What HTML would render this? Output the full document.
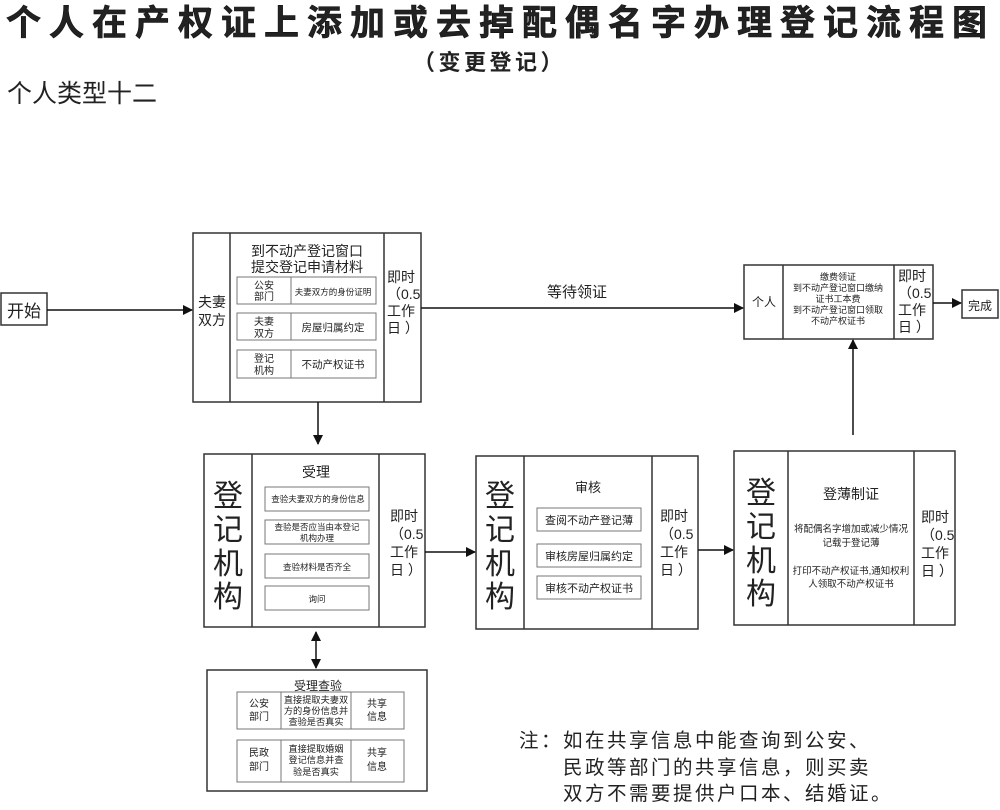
<!DOCTYPE html>
<html><head><meta charset="utf-8"><style>
body{margin:0;background:#fff}
svg text{font-family:"Liberation Sans","Noto Sans CJK SC",sans-serif;fill:#222}
</style></head><body>
<svg width="1000" height="805" viewBox="0 0 1000 805" xmlns="http://www.w3.org/2000/svg">
<defs><marker id="a" markerWidth="10" markerHeight="10" refX="9" refY="5" orient="auto" markerUnits="userSpaceOnUse"><path d="M0,0 L10,5 L0,10 z" fill="#111"/></marker>
<marker id="b" markerWidth="10" markerHeight="10" refX="1" refY="5" orient="auto" markerUnits="userSpaceOnUse"><path d="M10,0 L0,5 L10,10 z" fill="#111"/></marker></defs>
<g>
<text x="6" y="35" font-size="35" font-weight="bold" letter-spacing="8" fill="#111" stroke="#111" stroke-width="0.6">个人在产权证上添加或去掉配偶名字办理登记流程图</text>
<text x="413" y="70" font-size="22" font-weight="bold" letter-spacing="3.5">（变更登记）</text>
<text x="7" y="102" font-size="25">个人类型十二</text>
</g>
<g fill="none" stroke="#333" stroke-width="1.5">
<rect x="1" y="293" width="46" height="32"/>
<rect x="193" y="233" width="228" height="169"/><line x1="230" y1="233" x2="230" y2="402"/><line x1="384" y1="233" x2="384" y2="402"/>
<rect x="744" y="265" width="189" height="74"/><line x1="783" y1="265" x2="783" y2="339"/><line x1="894" y1="265" x2="894" y2="339"/>
<rect x="962" y="290" width="36" height="28"/>
<rect x="204" y="454" width="221" height="173"/><line x1="252" y1="454" x2="252" y2="627"/><line x1="379" y1="454" x2="379" y2="627"/>
<rect x="207" y="670" width="220" height="121"/>
<rect x="476" y="456" width="222" height="173"/><line x1="524" y1="456" x2="524" y2="629"/><line x1="652" y1="456" x2="652" y2="629"/>
<rect x="734" y="451" width="221" height="174"/><line x1="788" y1="451" x2="788" y2="625"/><line x1="914" y1="451" x2="914" y2="625"/>
</g>
<g fill="none" stroke="#777" stroke-width="1">
<rect x="237" y="277" width="139" height="27"/><line x1="291" y1="277" x2="291" y2="304"/>
<rect x="237" y="313" width="139" height="27"/><line x1="291" y1="313" x2="291" y2="340"/>
<rect x="237" y="350" width="139" height="28"/><line x1="291" y1="350" x2="291" y2="378"/>
<rect x="265" y="487" width="104" height="24"/><rect x="265" y="520" width="104" height="24"/><rect x="265" y="554" width="104" height="24"/><rect x="265" y="586" width="104" height="24"/>
<rect x="237" y="692" width="167" height="37"/><line x1="281" y1="692" x2="281" y2="729"/><line x1="351" y1="692" x2="351" y2="729"/>
<rect x="237" y="740" width="167" height="42"/><line x1="281" y1="740" x2="281" y2="782"/><line x1="351" y1="740" x2="351" y2="782"/>
<rect x="537" y="508" width="104" height="23"/><rect x="537" y="544" width="104" height="23"/><rect x="537" y="576" width="104" height="23"/>
</g>
<g stroke="#111" stroke-width="1.5" fill="none">
<line x1="47" y1="310" x2="192" y2="310" marker-end="url(#a)"/>
<line x1="421" y1="308" x2="743" y2="308" marker-end="url(#a)"/>
<line x1="933" y1="303" x2="961" y2="303" marker-end="url(#a)"/>
<line x1="853" y1="435" x2="853" y2="340" marker-end="url(#a)"/>
<line x1="318" y1="402" x2="318" y2="444" marker-end="url(#a)"/>
<line x1="316" y1="632" x2="316" y2="668" marker-start="url(#b)" marker-end="url(#a)"/>
<line x1="425" y1="552" x2="475" y2="552" marker-end="url(#a)"/>
<line x1="698" y1="550" x2="733" y2="550" marker-end="url(#a)"/>
</g>
<g text-anchor="middle">
<text x="24" y="317" font-size="17">开始</text>
<text x="980" y="310" font-size="12">完成</text>
<text x="577" y="297" font-size="15">等待领证</text>
<text x="212" y="307" font-size="14">夫妻</text><text x="212" y="325" font-size="14">双方</text>
<text x="307" y="256" font-size="14">到不动产登记窗口</text><text x="307" y="272" font-size="14">提交登记申请材料</text>
<text x="264" y="289" font-size="10">公安</text><text x="264" y="300" font-size="10">部门</text>
<text x="333" y="295" font-size="8.5">夫妻双方的身份证明</text>
<text x="264" y="325" font-size="10">夫妻</text><text x="264" y="337" font-size="10">双方</text>
<text x="333" y="331" font-size="10.5">房屋归属约定</text>
<text x="264" y="362" font-size="10">登记</text><text x="264" y="374" font-size="10">机构</text>
<text x="333" y="368" font-size="10.5">不动产权证书</text>
<text x="764" y="306" font-size="12">个人</text>
<g font-size="9"><text x="838" y="280">缴费领证</text><text x="838" y="291">到不动产登记窗口缴纳</text><text x="838" y="302">证书工本费</text><text x="838" y="313">到不动产登记窗口领取</text><text x="838" y="324">不动产权证书</text></g>
<text x="316" y="477" font-size="14">受理</text>
<g font-size="8.5"><text x="318" y="502">查验夫妻双方的身份信息</text><text x="317" y="530">查验是否应当由本登记</text><text x="317" y="541">机构办理</text><text x="317" y="570">查验材料是否齐全</text><text x="317" y="602">询问</text></g>
<text x="318" y="690" font-size="12">受理查验</text>
<g font-size="10"><text x="259" y="707">公安</text><text x="259" y="720">部门</text><text x="377" y="707">共享</text><text x="377" y="720">信息</text>
<text x="259" y="756">民政</text><text x="259" y="770">部门</text><text x="377" y="756">共享</text><text x="377" y="770">信息</text></g>
<g font-size="9.2"><text x="316" y="703">直接提取夫妻双</text><text x="316" y="714">方的身份信息并</text><text x="316" y="725">查验是否真实</text>
<text x="316" y="752">直接提取婚姻</text><text x="316" y="763">登记信息并查</text><text x="316" y="775">验是否真实</text></g>
<text x="588" y="492" font-size="13">审核</text>
<g font-size="11"><text x="589" y="524">查阅不动产登记薄</text><text x="589" y="560">审核房屋归属约定</text><text x="589" y="592">审核不动产权证书</text></g>
<text x="851" y="499" font-size="14">登薄制证</text>
<g font-size="9.5"><text x="851" y="532">将配偶名字增加或减少情况</text><text x="851" y="546">记载于登记薄</text><text x="851" y="574">打印不动产权证书,通知权利</text><text x="851" y="587">人领取不动产权证书</text></g>
</g>
<g font-size="30" text-anchor="middle">
<text x="228" y="506">登</text><text x="228" y="540">记</text><text x="228" y="574">机</text><text x="228" y="607">构</text>
<text x="500" y="506">登</text><text x="500" y="540">记</text><text x="500" y="574">机</text><text x="500" y="607">构</text>
<text x="761" y="503">登</text><text x="761" y="537">记</text><text x="761" y="571">机</text><text x="761" y="604">构</text>
</g>
<g font-size="14">
<text x="387" y="282">即时</text><text x="387" y="299">（0.5</text><text x="387" y="316">工作</text><text x="387" y="333">日 ）</text>
<text x="898" y="281">即时</text><text x="898" y="298">（0.5</text><text x="898" y="315">工作</text><text x="898" y="332">日 ）</text>
<text x="390" y="521">即时</text><text x="390" y="539">（0.5</text><text x="390" y="557">工作</text><text x="390" y="575">日 ）</text>
<text x="660" y="521">即时</text><text x="660" y="539">（0.5</text><text x="660" y="557">工作</text><text x="660" y="575">日 ）</text>
<text x="921" y="522">即时</text><text x="921" y="540">（0.5</text><text x="921" y="558">工作</text><text x="921" y="576">日 ）</text>
</g>
<g font-size="19.5" letter-spacing="2.5">
<text x="519" y="747">注：如在共享信息中能查询到公安、</text>
<text x="563" y="774">民政等部门的共享信息，则买卖</text>
<text x="563" y="800">双方不需要提供户口本、结婚证。</text>
</g>
</svg>
</body></html>
